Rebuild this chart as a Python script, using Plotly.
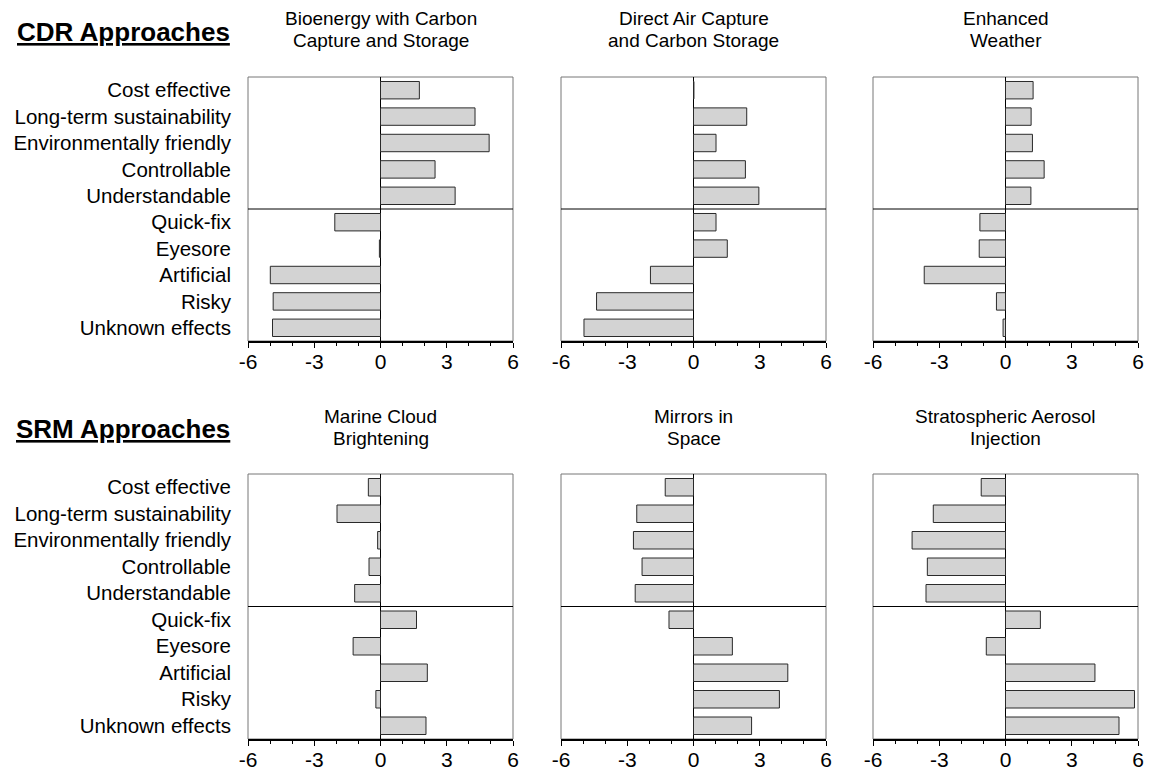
import plotly.graph_objects as go

W, H = 1150, 774

categories = ["Cost effective", "Long-term sustainability", "Environmentally friendly",
              "Controllable", "Understandable", "Quick-fix", "Eyesore", "Artificial",
              "Risky", "Unknown effects"]

beccs = [1.76, 4.28, 4.92, 2.47, 3.38, -2.07, -0.05, -4.99, -4.86, -4.89]
daccs = [0.02, 2.41, 1.02, 2.35, 2.96, 1.02, 1.53, -1.95, -4.39, -4.96]
enhanced_weather = [1.25, 1.16, 1.22, 1.75, 1.15, -1.16, -1.19, -3.68, -0.41, -0.11]
marine_cloud = [-0.55, -1.97, -0.13, -0.52, -1.17, 1.63, -1.24, 2.12, -0.21, 2.06]
mirrors = [-1.28, -2.57, -2.72, -2.33, -2.64, -1.11, 1.76, 4.27, 3.89, 2.63]
aerosol = [-1.10, -3.27, -4.23, -3.54, -3.60, 1.58, -0.87, 4.05, 5.84, 5.14]

# two-line panel titles
titles = [("Bioenergy with Carbon", "Capture and Storage"),
          ("Direct Air Capture", "and Carbon Storage"),
          ("Enhanced", "Weather"),
          ("Marine Cloud", "Brightening"),
          ("Mirrors in", "Space"),
          ("Stratospheric Aerosol", "Injection")]
series = [beccs, daccs, enhanced_weather, marine_cloud, mirrors, aerosol]

x_ticks = [-6, -3, 0, 3, 6]
x_tick_text = ["-6", "-3", "0", "3", "6"]

FONT = "Liberation Sans, Arial, Helvetica, sans-serif"

# panel pixel boxes (left, right) per column and (top, bottom) per row
col_px = [(248, 513), (561, 826), (873, 1138)]
row_px = [(77, 341), (474, 739)]

fig = go.Figure()
shapes = []
annotations = []

for i, ((t1, t2), vals) in enumerate(zip(titles, series)):
    r, c = divmod(i, 3)
    n = i + 1
    xa = "x" if n == 1 else f"x{n}"
    ya = "y" if n == 1 else f"y{n}"
    fig.add_trace(go.Bar(
        x=vals, y=categories, orientation="h", width=0.66,
        marker=dict(color="#d3d3d3", line=dict(color="#2a2a2a", width=1)),
        xaxis=xa, yaxis=ya, showlegend=False, hoverinfo="x+y"))

    l, rr = col_px[c]
    t, b = row_px[r]
    xdom = [l / W, rr / W]
    ydom = [1 - b / H, 1 - t / H]
    fig.layout[f"xaxis{n}" if n > 1 else "xaxis"] = dict(
        domain=xdom, anchor=ya, range=[-6, 6], tickvals=x_ticks, ticktext=x_tick_text,
        ticks="outside", ticklen=5, tickwidth=1, tickcolor="black", ticklabelstandoff=-4,
        minor=dict(dtick=1, tick0=0, ticks="outside", ticklen=3, tickcolor="black", showgrid=False),
        showline=True, linecolor="black", linewidth=1.5, automargin=False,
        showgrid=False, zeroline=True, zerolinecolor="black", zerolinewidth=1,
        tickfont=dict(family=FONT, size=21, color="black"), fixedrange=True)
    fig.layout[f"yaxis{n}" if n > 1 else "yaxis"] = dict(
        domain=ydom, anchor=xa, type="category", categoryorder="array",
        categoryarray=categories, range=[9.5, -0.5], automargin=False,
        showticklabels=(c == 0), ticks="", ticklabelstandoff=16,
        showline=False, showgrid=False, zeroline=False,
        tickfont=dict(family=FONT, size=20.5, color="black"), fixedrange=True)

    # panel frame
    shapes.append(dict(type="rect", xref=f"{xa} domain", yref=f"{ya} domain",
                       x0=0, x1=1, y0=0, y1=1, line=dict(color="#777777", width=1),
                       layer="below"))
    # divider between positive and negative attributes
    shapes.append(dict(type="line", xref=f"{xa} domain", yref=ya,
                       x0=0, x1=1, y0=4.5, y1=4.5, line=dict(color="black", width=1)))
    # panel title, one annotation per line
    for text, off in [(t1, 58), (t2, 36)]:
        annotations.append(dict(text=text, x=(l + rr) / 2 / W, y=1 - (t - off) / H,
                                xref="paper", yref="paper", xanchor="center", yanchor="middle",
                                showarrow=False, font=dict(family=FONT, size=19, color="black")))

for text, ypx in [("<b><u>CDR Approaches</u></b>", 32), ("<b><u>SRM Approaches</u></b>", 429)]:
    annotations.append(dict(text=text, x=232 / W, y=1 - ypx / H, xref="paper", yref="paper",
                            xanchor="right", yanchor="middle", showarrow=False,
                            font=dict(family=FONT, size=26, color="black")))

fig.update_layout(
    template="none",
    width=W, height=H, margin=dict(l=0, r=0, t=0, b=0, pad=0),
    paper_bgcolor="white", plot_bgcolor="white",
    shapes=shapes, annotations=annotations, bargap=0.3,
    font=dict(family=FONT, color="black"))

fig.write_html("out.html")
